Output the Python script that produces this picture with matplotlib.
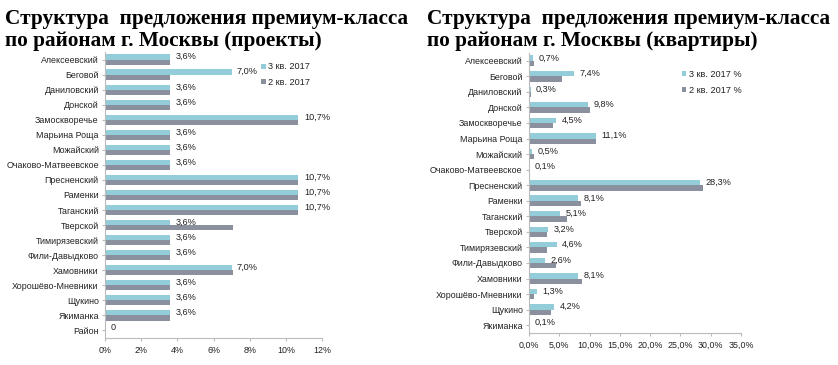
import matplotlib
matplotlib.use("Agg")
import matplotlib.pyplot as plt
import numpy as np
from matplotlib.ticker import FuncFormatter

districts_left = ["Алексеевский", "Беговой", "Даниловский", "Донской", "Замоскворечье",
                  "Марьина Роща", "Можайский", "Очаково-Матвеевское", "Пресненский", "Раменки",
                  "Таганский", "Тверской", "Тимирязевский", "Фили-Давыдково", "Хамовники",
                  "Хорошёво-Мневники", "Щукино", "Якиманка", "Район"]
proj_q3 = [3.6, 7.0, 3.6, 3.6, 10.7, 3.6, 3.6, 3.6, 10.7, 10.7, 10.7, 3.6, 3.6, 3.6, 7.0, 3.6, 3.6, 3.6, 0.0]
proj_q2 = [3.6, 3.6, 3.6, 3.6, 10.7, 3.6, 3.6, 3.6, 10.7, 10.7, 10.7, 7.1, 3.6, 3.6, 7.1, 3.6, 3.6, 3.6, 0.0]
proj_labels = ["3,6%", "7,0%", "3,6%", "3,6%", "10,7%", "3,6%", "3,6%", "3,6%", "10,7%", "10,7%",
               "10,7%", "3,6%", "3,6%", "3,6%", "7,0%", "3,6%", "3,6%", "3,6%", "0"]

districts_right = ["Алексеевский", "Беговой", "Даниловский", "Донской", "Замоскворечье",
                   "Марьина Роща", "Можайский", "Очаково-Матвеевское", "Пресненский", "Раменки",
                   "Таганский", "Тверской", "Тимирязевский", "Фили-Давыдково", "Хамовники",
                   "Хорошёво-Мневники", "Щукино", "Якиманка"]
flat_q3 = [0.7, 7.4, 0.3, 9.8, 4.5, 11.1, 0.5, 0.1, 28.3, 8.1, 5.1, 3.2, 4.6, 2.6, 8.1, 1.3, 4.2, 0.1]
flat_q2 = [0.8, 5.4, 0.3, 10.0, 4.0, 11.1, 0.8, 0.1, 28.7, 8.6, 6.2, 3.0, 3.0, 4.4, 8.7, 0.8, 3.7, 0.1]

title_left = "Структура  предложения премиум-класса\nпо районам г. Москвы (проекты)"
title_right = "Структура  предложения премиум-класса\nпо районам г. Москвы (квартиры)"
legend_left = ["3 кв. 2017", "2 кв. 2017"]
legend_right = ["3 кв. 2017 %", "2 кв. 2017 %"]

C_Q3 = "#93CDD9"
C_Q2 = "#8A909D"
TXT = "#222222"

plt.rcParams['font.family'] = ['Liberation Sans', 'DejaVu Sans']

fig = plt.figure(figsize=(8.38, 3.65), dpi=100)
fig.patch.set_facecolor("white")

def draw(ax, cats, q3, q2, xmax, xstep, fmt, labels, leg, leg_pos):
    y = np.arange(len(cats))
    h = 0.34
    ax.barh(y - h / 2, q3, height=h, color=C_Q3, label=leg[0])
    ax.barh(y + h / 2, q2, height=h, color=C_Q2, label=leg[1])
    ax.set_ylim(len(cats) - 0.5, -0.5)
    ax.set_xlim(0, xmax)
    ax.set_xticks(np.arange(0, xmax + 1e-9, xstep))
    ax.xaxis.set_major_formatter(FuncFormatter(fmt))
    ax.set_yticks(y)
    ax.set_yticklabels(cats)
    ax.tick_params(axis='y', labelsize=6.4, length=2.5, color="#bbbbbb", pad=2, labelcolor=TXT)
    ax.tick_params(axis='x', labelsize=6.4, length=2.5, color="#bbbbbb", pad=3, labelcolor=TXT)
    for s in ["top", "right"]:
        ax.spines[s].set_visible(False)
    for s in ["left", "bottom"]:
        ax.spines[s].set_color("#bbbbbb")
        ax.spines[s].set_linewidth(0.8)
    for yi, v, lab in zip(y, q3, labels):
        ax.text(v + xmax * 0.025, yi - h * 0.55, lab, fontsize=6.6, color=TXT, va='center', ha='left')
    lg = ax.legend(loc='upper left', bbox_to_anchor=leg_pos, frameon=False, fontsize=6.6,
                   handlelength=0.45, handleheight=0.45, handletextpad=0.3, labelspacing=0.7,
                   borderpad=0)
    for t in lg.get_texts():
        t.set_color(TXT)

ax1 = fig.add_axes([105 / 838, 1 - 338 / 365, 217 / 838, 286 / 365])
draw(ax1, districts_left, proj_q3, proj_q2, 12, 2, lambda v, p: f"{int(round(v))}%",
     proj_labels, legend_left, (0.70, 0.98))

ax2 = fig.add_axes([529 / 838, 1 - 333 / 365, 212 / 838, 280 / 365])
flat_labels = [f"{v:.1f}%".replace(".", ",") for v in flat_q3]
draw(ax2, districts_right, flat_q3, flat_q2, 35, 5, lambda v, p: f"{v:.1f}%".replace(".", ","),
     flat_labels, legend_right, (0.70, 0.955))

tkw = dict(fontsize=15.3, fontweight='bold', family=['Liberation Serif', 'DejaVu Serif'],
           va='top', ha='left', color='black', linespacing=1.12)
fig.text(5 / 838, 1 - 9 / 365, title_left, **tkw)
fig.text(427 / 838, 1 - 9 / 365, title_right, **tkw)

fig.savefig("out.png", dpi=100, facecolor="white")
